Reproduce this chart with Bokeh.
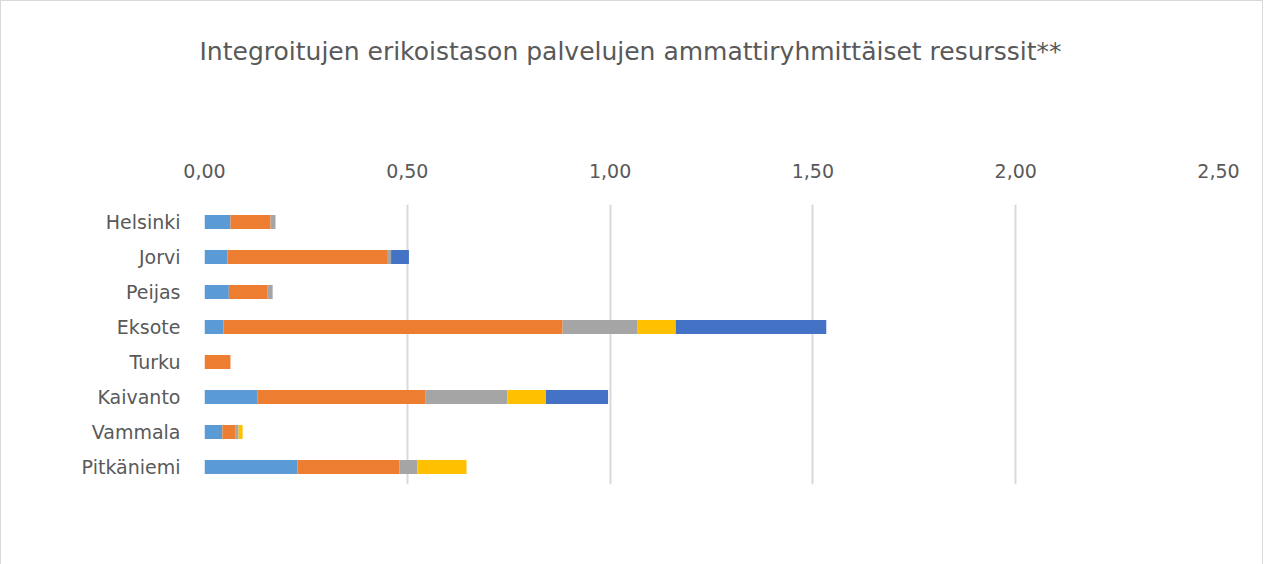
from bokeh.plotting import figure
from bokeh.models import (ColumnDataSource, Legend, LegendItem, FixedTicker, CustomJSTickFormatter,
                          FactorRange, Range1d)
from bokeh.embed import file_html
from bokeh.resources import INLINE

categories = ["Helsinki", "Jorvi", "Peijas", "Eksote", "Turku", "Kaivanto", "Vammala", "Pitkäniemi"]
laakarit = [0.064, 0.057, 0.060, 0.047, 0.000, 0.130, 0.044, 0.229]
sairaanhoitajat = [0.099, 0.395, 0.096, 0.836, 0.064, 0.414, 0.033, 0.252]
psykologit = [0.012, 0.008, 0.012, 0.185, 0.000, 0.203, 0.007, 0.044]
sosiaalityontekijat = [0.000, 0.000, 0.000, 0.094, 0.000, 0.095, 0.010, 0.121]
muut = [0.000, 0.044, 0.000, 0.371, 0.000, 0.153, 0.000, 0.000]
series_names = ["Lääkärit", "Sairaanhoitajat", "Psykologit", "Sosiaalityöntekijät", "Muut ammattiryhmät"]
colors = ["#5B9BD5", "#ED7D31", "#A5A5A5", "#FFC000", "#4472C4"]
x_ticks = [0, 0.5, 1.0, 1.5, 2.0, 2.5]
title_text = "Integroitujen erikoistason palvelujen ammattiryhmittäiset resurssit**"

FONT = "DejaVu Sans"
TXT = "#595959"

keys = ["s0", "s1", "s2", "s3", "s4"]
source = ColumnDataSource(dict(cat=categories, s0=laakarit, s1=sairaanhoitajat,
                               s2=psykologit, s3=sosiaalityontekijat, s4=muut))

p = figure(frame_width=1014, frame_height=280, output_backend="svg", toolbar_location=None,
           y_range=FactorRange(factors=list(reversed(categories)), range_padding=0),
           x_range=Range1d(0, 2.5), x_axis_location="above",
           title=title_text,
           min_border_left=203, min_border_right=44,
           min_border_top=203, min_border_bottom=80)

p.title.text_font = FONT
p.title.text_font_size = "25px"
p.title.text_font_style = "normal"
p.title.text_color = TXT
p.title.align = "left"
p.title.offset = -5
p.title.standoff = 10

renderers = p.hbar_stack(keys, y="cat", height=0.4, color=colors, line_color=None, source=source)

p.outline_line_color = None
p.background_fill_color = "white"
p.border_fill_color = "white"

xa = p.xaxis[0]
xa.ticker = FixedTicker(ticks=x_ticks)
xa.formatter = CustomJSTickFormatter(code="return tick.toFixed(2).replace('.', ',');")
xa.axis_line_color = None
xa.major_tick_line_color = None
xa.minor_tick_line_color = None
xa.major_label_text_font = FONT
xa.major_label_text_font_size = "19px"
xa.major_label_text_color = TXT
xa.major_label_standoff = 21
xa.axis_label = " "
xa.axis_label_text_font = FONT
xa.axis_label_text_font_size = "19px"
xa.axis_label_standoff = 65

ya = p.yaxis[0]
ya.axis_line_color = None
ya.major_tick_line_color = None
ya.minor_tick_line_color = None
ya.major_label_text_font = FONT
ya.major_label_text_font_size = "19px"
ya.major_label_text_color = TXT
ya.major_label_standoff = 18

p.xgrid.ticker = FixedTicker(ticks=x_ticks)
p.xgrid.grid_line_color = "#D9D9D9"
p.xgrid.grid_line_width = 2
p.ygrid.grid_line_color = None

items = [LegendItem(label=n, renderers=[r]) for n, r in zip(series_names, renderers)]
legend = Legend(items=items, orientation="horizontal", location="bottom_center",
                label_text_font=FONT, label_text_font_size="19px", label_text_color=TXT,
                glyph_width=13, glyph_height=13, spacing=36, label_standoff=6,
                border_line_color=None, background_fill_alpha=0, margin=19, padding=0)
p.add_layout(legend, "below")

p.styles = {"border": "1px solid #D9D9D9", "border-bottom": "none"}

open("out.html", "w").write(file_html(p, INLINE))
